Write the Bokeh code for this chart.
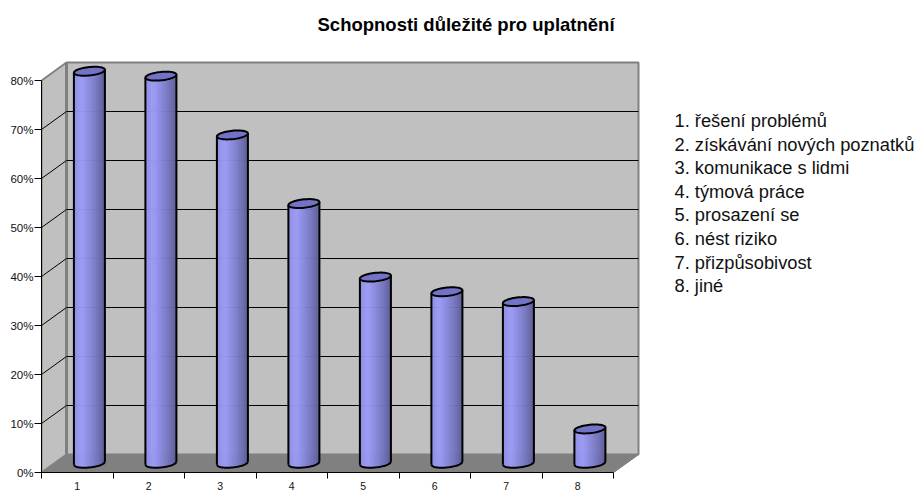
import numpy as np
from bokeh.plotting import figure
from bokeh.embed import file_html
from bokeh.resources import INLINE
from bokeh.models import FixedTicker, Label

title_text = "Schopnosti důležité pro uplatnění"
categories = ["1", "2", "3", "4", "5", "6", "7", "8"]
values = [80, 79, 67, 53, 38, 35, 33, 7]
legend_items = ["1. řešení problémů", "2. získávání nových poznatků", "3. komunikace s lidmi",
                "4. týmová práce", "5. prosazení se", "6. nést riziko", "7. přizpůsobivost", "8. jiné"]
y_ticks = [0, 10, 20, 30, 40, 50, 60, 70, 80]

FONT = "Liberation Sans"
PX_X = 71.5   # px per category
PX_Y = 4.9    # px per percent
DX = 25 / PX_X
DY = 18 / PX_Y
N = len(categories)

W, H = 919, 491
L = 41
BOTTOM = 19
fw, fh = W - L, H - BOTTOM

p = figure(width=W, height=H, output_backend="svg", toolbar_location=None,
           x_range=(0, fw / PX_X), y_range=(0, fh / PX_Y),
           frame_width=fw, frame_height=fh,
           min_border_left=L, min_border_right=0, min_border_top=0, min_border_bottom=BOTTOM,
           outline_line_color=None, background_fill_color="white", border_fill_color="white")
p.grid.visible = False

# walls and floor
p.patch([0, DX, DX, 0], [0, DY, 80 + DY, 80], fill_color="#c0c0c0", line_color="#808080", line_width=2)
p.patch([0, N, N + DX, DX], [0, 0, DY, DY], fill_color="#808080", line_color="#808080")
p.quad(left=[DX], right=[N + DX], bottom=[DY], top=[80 + DY], fill_color="#c0c0c0",
       line_color="#808080", line_width=2)
p.segment(x0=[DX], x1=[DX], y0=[DY], y1=[80 + DY], line_color="#808080", line_width=3)

# gridlines
gv = y_ticks[1:-1]
p.segment(x0=[DX] * len(gv), x1=[N + DX] * len(gv), y0=[v + DY for v in gv], y1=[v + DY for v in gv],
          line_color="black", line_width=1)
p.segment(x0=[0] * len(gv), x1=[DX] * len(gv), y0=gv, y1=[v + DY for v in gv], line_color="black", line_width=1)
p.segment(x0=[N], x1=[N + DX], y0=[0], y1=[DY], line_color="#808080", line_width=1)

# cylinders
R_PX = 15.5
RY = 4.2
TILT = 3.0  # px rise across the cap
STRIPS = 16
rx = R_PX / PX_X
light = np.array([0x9c, 0x9c, 0xf8])
dark = np.array([0x5e, 0x5e, 0x9a])
for i, v in enumerate(values):
    c = i + 0.5 + 0.17
    base = 9.25 / PX_Y
    top = base + v
    edges = np.linspace(c - rx, c + rx, STRIPS + 1)
    mids = (edges[:-1] + edges[1:]) / 2
    u = (mids - c) / rx
    low = base - np.sqrt(1 - u ** 2) * RY / PX_Y + u * TILT / 2 / PX_Y
    t = (u + 1) / 2
    wave = np.abs(t - 0.25) / 0.75
    wave = np.where(t < 0.25, wave * 0.7, wave ** 1.2)
    colors = ["#%02x%02x%02x" % tuple(int(k) for k in light + (dark - light) * w) for w in wave]
    p.quad(left=edges[:-1], right=edges[1:], bottom=low, top=top + u * TILT / 2 / PX_Y, fill_color=colors,
           line_color=colors, line_width=0.5)
    ang = np.linspace(-1, 1, 41)
    xs = c + ang * rx
    ys = base - np.sqrt(1 - ang ** 2) * RY / PX_Y + ang * TILT / 2 / PX_Y
    p.line(xs, ys, line_color="black", line_width=2)
    p.segment(x0=[c - rx, c + rx], x1=[c - rx, c + rx], y0=[base - TILT / 2 / PX_Y, base + TILT / 2 / PX_Y],
              y1=[top - TILT / 2 / PX_Y, top + TILT / 2 / PX_Y], line_color="black", line_width=2)
    th = np.linspace(0, 2 * np.pi, 61)
    ex = np.cos(th)
    ey = np.sin(th)
    p.patch(c + ex * rx, top + (ey * RY + ex * TILT / 2) / PX_Y, fill_color="#7272c6", line_color="black", line_width=2)

# axes
ya = p.yaxis[0]
ya.ticker = FixedTicker(ticks=y_ticks)
ya.major_label_overrides = {v: f"{v}%" for v in y_ticks}
ya.major_label_text_font = FONT
ya.major_label_text_font_size = "11.5px"
ya.major_label_text_color = "#111111"
ya.major_tick_out = 7
ya.major_tick_in = 0
ya.minor_tick_out = 0
ya.minor_tick_in = 0
ya.major_label_standoff = 1
ya.axis_line_color = "black"
ya.major_tick_line_color = "black"
ya.bounds = (0, 80)

xa = p.xaxis[0]
mids = [i + 0.5 for i in range(N)]
xa.ticker = FixedTicker(ticks=mids, minor_ticks=list(range(N + 1)))
xa.major_label_overrides = {m: c for m, c in zip(mids, categories)}
xa.major_label_text_font = FONT
xa.major_label_text_font_size = "10.5px"
xa.major_label_text_color = "#111111"
xa.major_tick_out = 0
xa.major_tick_in = 0
xa.minor_tick_out = 6
xa.minor_tick_in = 0
xa.major_label_standoff = 3
xa.axis_line_color = "black"
xa.minor_tick_line_color = "black"
xa.bounds = (0, N)

# title and legend (offsets measured from the frame's lower left corner)
p.add_layout(Label(x=317 - L, y=fh - 24, x_units="screen", y_units="screen", text=title_text, text_font=FONT,
                   text_font_style="bold", text_font_size="18.5px", text_color="black",
                   text_baseline="alphabetic"))
for i, item in enumerate(legend_items):
    p.add_layout(Label(x=674 - L, y=fh - 120 - i * 23.6, x_units="screen", y_units="screen", text=item,
                       text_font=FONT, text_font_size="18.3px", text_color="#111111",
                       text_baseline="alphabetic"))

open("out.html", "w").write(file_html(p, INLINE))
